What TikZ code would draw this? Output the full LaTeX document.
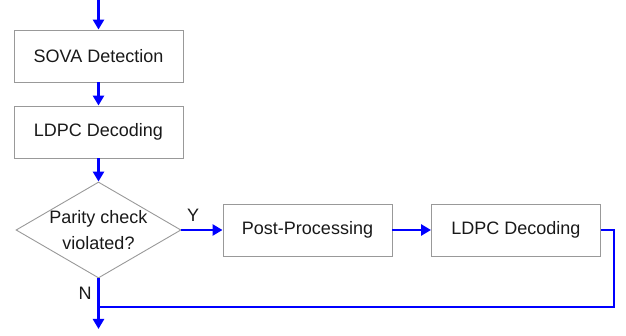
\documentclass[tikz,border=0pt]{standalone}
\usepackage{fontspec}
\setmainfont{Liberation Sans}
\usetikzlibrary{arrows.meta,shapes.geometric}
\begin{document}
\begin{tikzpicture}[x=1pt,y=-1pt,
  txt/.style={font=\fontsize{18}{26}\selectfont, text=black!90},
  box/.style={txt, draw=black!40, line width=0.9pt, minimum width=169pt, minimum height=52pt, inner sep=0pt},
  dec/.style={diamond, draw=black!40, line width=0.9pt, minimum width=165pt, minimum height=96pt, inner sep=0pt},
  wire/.style={draw=blue, line width=2.8pt},
  flow/.style={wire, -{Triangle[length=10pt,width=11pt]}}]
\useasboundingbox (0,0) rectangle (626,336);
\node[box] (sova) at (98.5,56) {SOVA Detection};
\node[box] (ldpc1) at (98.5,132) {LDPC Decoding};
\node[dec] (dia) at (98.5,230) {};
\node[txt, align=center, inner sep=0pt] (diatext) at (98.5,230) {Parity check\\violated?};
\node[box] (pp) at (307.5,230) {Post-Processing};
\node[box] (ldpc2) at (516,230) {LDPC Decoding};
\coordinate (start) at (98.5,0);
\coordinate (corner) at (614,307);
\coordinate (join) at (98.5,307);
\coordinate (end) at (98.5,329);
\draw[flow] (start) -- (sova);
\draw[flow] (sova) -- (ldpc1);
\draw[flow] (ldpc1) -- (dia);
\draw[flow] (dia.east) -- (pp);
\draw[flow] (pp) -- (ldpc2);
\draw[wire] (ldpc2.east) -| (corner) -- (join);
\draw[flow] (dia.south) -- (end);
\node[txt] (ylab) at (193,215) {Y};
\node[txt] (nlab) at (85,293) {N};
\end{tikzpicture}
\end{document}
